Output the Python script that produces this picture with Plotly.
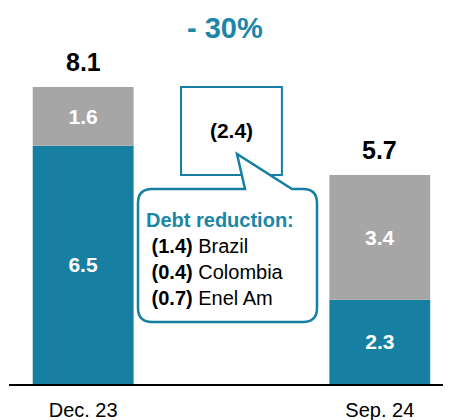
import plotly.graph_objects as go

# ---- data ----
categories = ["Dec. 23", "Sep. 24"]
teal_values = [6.5, 2.3]
gray_values = [1.6, 3.4]
totals = [8.1, 5.7]
breakdown_labels = ["Brazil", "Colombia", "Enel Am"]
breakdown_values = [1.4, 0.4, 0.7]
callout_title = "Debt reduction:"

# ---- style ----
TEAL = "#177FA1"
TEAL_TXT = "#1B86A8"
GRAY = "#A6A6A6"
FONT = "Liberation Sans, Arial, sans-serif"

OFF = 8  # page body margin
W, H = 451 - OFF, 420 - OFF
ML, MR, MT, MB = 1, 0, 0, 36
PLOT_W = W - ML - MR
PLOT_H = H - MT - MB
PX_PER_UNIT = 36.67
ymax = PLOT_H / PX_PER_UNIT
BAR_W = 0.68

def px(xpage):
    return (xpage - OFF - ML) / PLOT_W

def py(ypage):
    return (H - MB - (ypage - OFF)) / PLOT_H

x_pos = [0, 2]
change = round(totals[0] - totals[1], 1)
pct = round((totals[1] - totals[0]) / totals[0] * 100)

fig = go.Figure()
fig.add_bar(
    x=x_pos, y=teal_values, base=[0, 0], width=BAR_W,
    marker=dict(color=TEAL, line=dict(width=0)),
    texttemplate="<b>%{y:.1f}</b>", textposition="inside", insidetextanchor="middle",
    textfont=dict(color="white", size=21, family=FONT), showlegend=False,
)
fig.add_bar(
    x=x_pos, y=gray_values, base=teal_values, width=BAR_W,
    marker=dict(color=GRAY, line=dict(width=0)),
    texttemplate="<b>%{y:.1f}</b>", textposition="inside", insidetextanchor="middle",
    textfont=dict(color="white", size=21, family=FONT), showlegend=False,
)
fig.add_bar(
    x=[1], y=[change], base=[totals[1]], width=BAR_W,
    marker=dict(color="white", line=dict(color=TEAL, width=2)),
    text=[f"<b>({change:.1f})</b>"], textposition="inside", insidetextanchor="middle",
    textfont=dict(color="black", size=21, family=FONT), showlegend=False,
)

# totals above bars
for xv, tv in zip(x_pos, totals):
    fig.add_annotation(x=xv, y=tv, xref="x", yref="y", text=f"<b>{tv:.1f}</b>",
                       showarrow=False, yanchor="bottom", yshift=9,
                       font=dict(size=25, color="black", family=FONT))

# percent change title
fig.add_annotation(x=px(225), y=py(28), xref="paper", yref="paper",
                   text=f"<b>- {abs(pct)}%</b>", showarrow=False,
                   yanchor="middle", font=dict(size=29, color=TEAL_TXT, family=FONT))

# callout bubble
L, R, T, B, r = 138, 317, 189, 322, 14
x1, x2, tx, ty = 245, 292, 237, 154
def P(a, b):
    return f"{px(a):.5f},{py(b):.5f}"
path = (f"M {P(L + r, T)} L {P(x1, T)} L {P(tx, ty)} L {P(x2, T)} L {P(R - r, T)} "
        f"Q {P(R, T)} {P(R, T + r)} L {P(R, B - r)} Q {P(R, B)} {P(R - r, B)} "
        f"L {P(L + r, B)} Q {P(L, B)} {P(L, B - r)} L {P(L, T + r)} Q {P(L, T)} {P(L + r, T)} Z")
fig.add_shape(type="path", path=path, xref="paper", yref="paper", layer="above",
              fillcolor="white", line=dict(color=TEAL, width=2.5))

lines = [f"<span style='color:{TEAL_TXT}'><b>{callout_title}</b></span>"]
for lab, v in zip(breakdown_labels, breakdown_values):
    lines.append(f" <b>({v:.1f})</b> {lab}")
fig.add_annotation(x=px(144), y=py(207), xref="paper", yref="paper",
                   text="<br>".join(lines), showarrow=False, align="left",
                   xanchor="left", yanchor="top",
                   font=dict(size=20, color="black", family=FONT))

fig.update_layout(
    width=W, height=H, margin=dict(l=ML, r=MR, t=MT, b=MB),
    plot_bgcolor="white", paper_bgcolor="white", barmode="overlay",
    xaxis=dict(range=[-0.5, 2.48], tickvals=x_pos, ticktext=categories,
               showgrid=False, zeroline=False, showline=True, linecolor="black",
               linewidth=2, ticks="", ticklabelstandoff=7,
               tickfont=dict(size=20, color="black", family=FONT)),
    yaxis=dict(range=[0, ymax], visible=False),
    font=dict(family=FONT),
)

fig.write_html("out.html")
